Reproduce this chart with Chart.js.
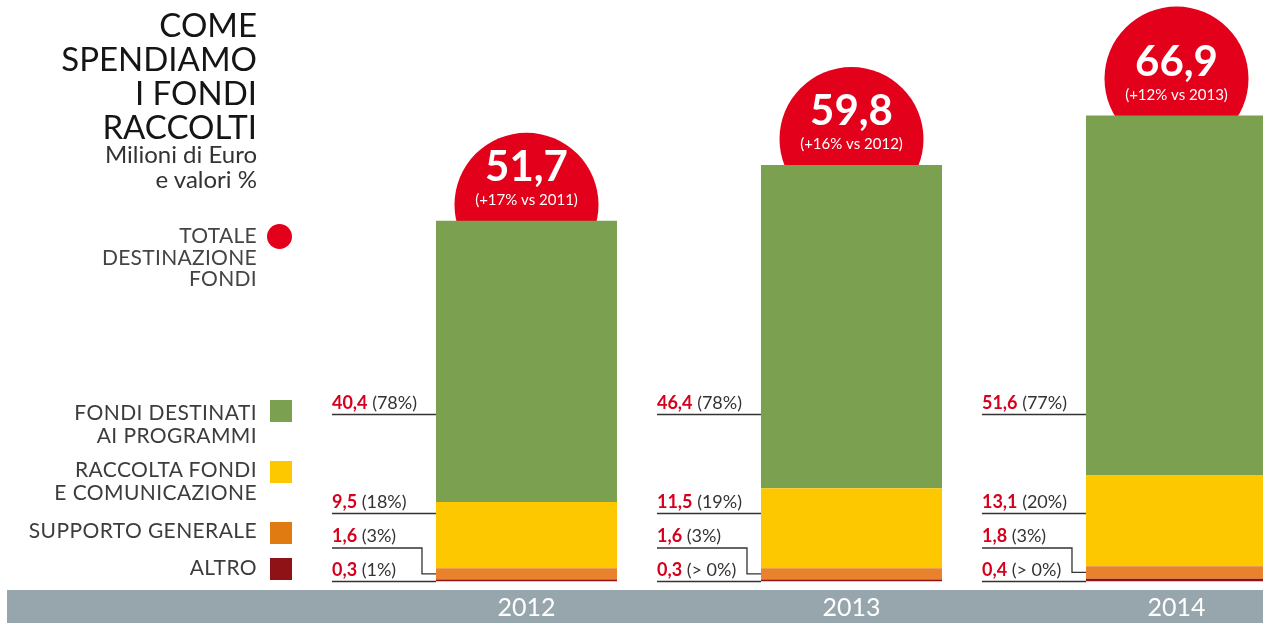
<!DOCTYPE html>
<html lang="it">
<head>
<meta charset="utf-8">
<title>Come spendiamo i fondi raccolti</title>
<script src="https://cdn.jsdelivr.net/npm/chart.js@4"></script>
<style>
  body { margin: 0; width: 1263px; height: 623px; overflow: hidden; background: #fff;
         font-family: Lato, "Open Sans", sans-serif; position: relative; }
  #fascia { position: absolute; left: 7px; top: 590px; width: 1256px; height: 33px; background: #97a6ac; }
  #grafico { position: absolute; left: 0; top: 0; }
  .blocco { position: absolute; left: 0; width: 257px; text-align: right; }
  #titolo { top: 7px; font-size: 33px; line-height: 34px; color: #151515; }
  #sottotitolo { top: 141px; font-size: 24px; line-height: 25px; color: #333; }
  #totale { top: 224px; font-size: 21px; line-height: 21.5px; color: #444; letter-spacing: 0.3px; }
  #pallino { position: absolute; left: 267px; top: 224px; width: 25px; height: 25px; border-radius: 50%; background: #e2001a; }
  .voce { font-size: 21px; line-height: 23px; color: #3c3c3c; letter-spacing: 0.4px; }
  .quadrato { position: absolute; left: 270px; width: 22px; height: 22px; }
</style>
</head>
<body>
<div id="fascia"></div>
<canvas id="grafico" width="1400" height="623"></canvas>
<div class="blocco" id="titolo">COME<br>SPENDIAMO<br>I FONDI<br>RACCOLTI</div>
<div class="blocco" id="sottotitolo">Milioni di Euro<br>e valori %</div>
<div class="blocco" id="totale">TOTALE<br>DESTINAZIONE<br>FONDI</div>
<div id="pallino"></div>
<div id="legenda"></div>
<script>
// dati (milioni di euro)
const anni = ["2012", "2013", "2014"];
const fondiProgrammi = [40.4, 46.4, 51.6];
const raccoltaFondi = [9.5, 11.5, 13.1];
const supportoGenerale = [1.6, 1.6, 1.8];
const altro = [0.3, 0.3, 0.4];

const pctProgrammi = ["78%", "78%", "77%"];
const pctRaccolta = ["18%", "19%", "20%"];
const pctSupporto = ["3%", "3%", "3%"];
const pctAltro = ["1%", "> 0%", "> 0%"];

const totali = [51.7, 59.8, 66.9];
const variazioni = ["+17% vs 2011", "+16% vs 2012", "+12% vs 2013"];

const nomiSerie = [
  ["ALTRO"],
  ["SUPPORTO GENERALE"],
  ["RACCOLTA FONDI", "E COMUNICAZIONE"],
  ["FONDI DESTINATI", "AI PROGRAMMI"]
];
const colori = ["#8e1216", "#e8822c", "#fdc800", "#7aa050"];
const coloriLegenda = ["#8e1216", "#e07b12", "#fdc800", "#7aa050"];

const ROSSO = "#e2001a";
const alzoCerchio = [16, 26, 37];

let virgola = (n) => n.toFixed(1).replace(".", ",");

// legenda a sinistra
const posLegenda = [555, 518, 457, 400];
const posQuadrati = [558, 522, 461, 400];
let legenda = document.getElementById("legenda");
nomiSerie.forEach((nome, i) => {
  legenda.innerHTML += `<div class="blocco voce" style="top:${posLegenda[i]}px">${nome.join("<br>")}</div>
    <div class="quadrato" style="top:${posQuadrati[i]}px;background:${coloriLegenda[i]}"></div>`;
});

// cerchi rossi con il totale e etichette a sinistra delle barre
const etichette = {
  id: "etichette",
  beforeDatasetsDraw(chart) {
    const ctx = chart.ctx;
    chart.getDatasetMeta(3).data.forEach((bar, i) => {
      ctx.save();
      ctx.fillStyle = ROSSO;
      ctx.beginPath();
      ctx.arc(bar.x, bar.y - alzoCerchio[i], 72, 0, Math.PI * 2);
      ctx.fill();
      ctx.fillStyle = "#fff";
      ctx.textAlign = "center";
      ctx.font = "bold 42px Lato";
      ctx.fillText(virgola(totali[i]), bar.x, bar.y - 40);
      ctx.font = "15px Lato";
      ctx.fillText("(" + variazioni[i] + ")", bar.x, bar.y - 16);
      ctx.restore();
    });
  },
  afterDatasetsDraw(chart) {
    const ctx = chart.ctx;
    const fondo = chart.chartArea.bottom;
    const righe = [
      { ds: 3, val: fondiProgrammi, pct: pctProgrammi, y: fondo - 167 },
      { ds: 2, val: raccoltaFondi, pct: pctRaccolta, y: fondo - 68 },
      { ds: 1, val: supportoGenerale, pct: pctSupporto, y: fondo - 33.5, gomito: true },
      { ds: 0, val: altro, pct: pctAltro, y: fondo }
    ];
    ctx.save();
    righe.forEach((r) => {
      chart.getDatasetMeta(r.ds).data.forEach((bar, i) => {
        const sx = bar.x - bar.width / 2;
        const x0 = sx - 104;
        ctx.strokeStyle = "#333";
        ctx.lineWidth = 1.3;
        ctx.beginPath();
        ctx.moveTo(x0, r.y);
        if (r.gomito) {
          const my = (bar.y + bar.base) / 2;
          ctx.lineTo(sx - 14, r.y);
          ctx.lineTo(sx - 14, my);
          ctx.lineTo(sx, my);
        } else {
          ctx.lineTo(sx, r.y);
        }
        ctx.stroke();

        ctx.textAlign = "left";
        ctx.font = "bold 18px Lato";
        ctx.fillStyle = "#d7001c";
        const testo = virgola(r.val[i]);
        ctx.fillText(testo, x0, r.y - 6);
        const w = ctx.measureText(testo).width;
        ctx.font = "18px Lato";
        ctx.fillStyle = "#333";
        ctx.fillText(" (" + r.pct[i] + ")", x0 + w, r.y - 6);
      });
    });
    ctx.restore();
  }
};

new Chart(document.getElementById("grafico"), {
  type: "bar",
  data: {
    labels: anni,
    datasets: [altro, supportoGenerale, raccoltaFondi, fondiProgrammi].map((d, i) => ({
      label: nomiSerie[i].join(" "),
      data: d,
      backgroundColor: colori[i],
      borderWidth: 0,
      categoryPercentage: 1,
      barPercentage: 0.557
    }))
  },
  options: {
    responsive: false,
    animation: false,
    layout: { padding: { left: 364, right: 61, top: 0, bottom: 0 } },
    plugins: { legend: { display: false }, tooltip: { enabled: false } },
    scales: {
      x: {
        stacked: true,
        grid: { display: false, drawTicks: false },
        border: { display: false },
        ticks: { color: "#fff", font: { family: "Lato", size: 25 }, padding: 11 },
        afterFit: (s) => { s.height = 41.5; }
      },
      y: {
        stacked: true,
        display: false,
        min: 0,
        max: 83.5
      }
    }
  },
  plugins: [etichette]
});
</script>
</body>
</html>
